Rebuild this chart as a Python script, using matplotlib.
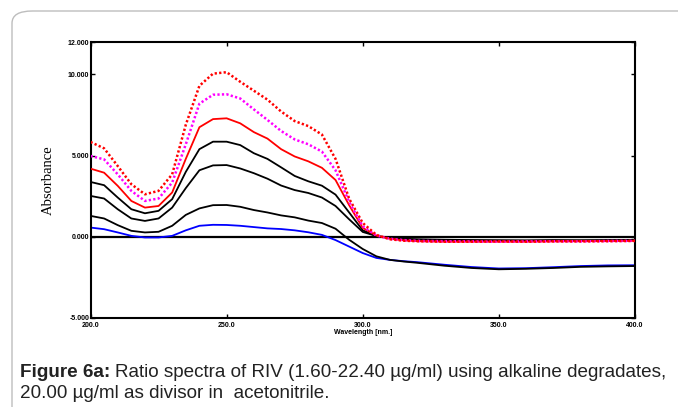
import matplotlib
matplotlib.use("Agg")
import matplotlib.pyplot as plt
from matplotlib.patches import FancyBboxPatch

# ---------------- data ----------------
wavelength = [200, 205, 210, 215, 220, 225, 230, 235, 240, 245, 250, 255, 260,
              265, 270, 275, 280, 285, 290, 295, 300, 305,
              310, 315, 320, 330, 340, 350, 360, 370, 380, 390, 400]

red_dotted = [5.84, 5.45, 4.36, 3.24, 2.62, 2.83, 3.85, 6.90, 9.30, 10.05, 10.14, 9.55, 9.00,
              8.45, 7.72, 7.13, 6.82, 6.30, 4.80, 2.35, 0.85, 0.12,
              -0.15, -0.24, -0.27, -0.30, -0.30, -0.28, -0.30, -0.28, -0.28, -0.27, -0.25]
magenta_dotted = [4.98, 4.77, 3.85, 2.83, 2.21, 2.36, 3.34, 5.70, 8.20, 8.75, 8.78, 8.52, 7.85,
                  7.20, 6.52, 6.00, 5.70, 5.25, 4.10, 2.15, 0.65, 0.08,
                  -0.12, -0.20, -0.25, -0.27, -0.28, -0.30, -0.28, -0.27, -0.28, -0.26, -0.25]
red_solid = [4.20, 3.95, 3.14, 2.21, 1.80, 1.90, 2.73, 4.80, 6.75, 7.25, 7.30, 6.99, 6.45,
             6.05, 5.40, 4.95, 4.65, 4.25, 3.50, 1.95, 0.55, 0.08,
             -0.12, -0.22, -0.27, -0.30, -0.30, -0.30, -0.30, -0.28, -0.27, -0.26, -0.25]
black_1 = [3.38, 3.18, 2.42, 1.70, 1.45, 1.60, 2.32, 4.00, 5.40, 5.86, 5.86, 5.65, 5.15,
           4.80, 4.28, 3.75, 3.42, 3.15, 2.60, 1.50, 0.40, 0.05,
           -0.08, -0.14, -0.18, -0.20, -0.22, -0.22, -0.24, -0.23, -0.22, -0.22, -0.20]
black_2 = [2.52, 2.36, 1.70, 1.13, 0.98, 1.13, 1.80, 3.00, 4.10, 4.40, 4.42, 4.21, 3.92,
           3.58, 3.16, 2.88, 2.70, 2.42, 1.90, 1.08, 0.30, 0.05,
           -0.06, -0.12, -0.15, -0.18, -0.20, -0.22, -0.22, -0.20, -0.22, -0.20, -0.20]
black_3 = [1.29, 1.13, 0.72, 0.37, 0.27, 0.31, 0.68, 1.35, 1.75, 1.95, 1.96, 1.85, 1.65,
           1.50, 1.32, 1.20, 1.00, 0.85, 0.50, -0.18, -0.75, -1.20,
           -1.42, -1.52, -1.60, -1.78, -1.92, -2.00, -1.97, -1.92, -1.85, -1.82, -1.80]
blue = [0.57, 0.47, 0.27, 0.06, -0.04, -0.04, 0.06, 0.40, 0.68, 0.74, 0.73, 0.68, 0.60,
        0.52, 0.48, 0.40, 0.28, 0.12, -0.20, -0.60, -1.00, -1.30,
        -1.42, -1.50, -1.56, -1.72, -1.86, -1.95, -1.93, -1.87, -1.80, -1.76, -1.75]

x_ticks = [200, 250, 300, 350, 400]
y_ticks = [-5, 0, 5, 10, 12]

# ---------------- figure ----------------
W, H = 678, 407
fig = plt.figure(figsize=(W / 100, H / 100), dpi=100)

# rounded page border
border = FancyBboxPatch((12 / W, -0.05), 1.2, 1 - 11 / H + 0.05,
                        boxstyle="round,pad=0,rounding_size=0.03",
                        transform=fig.transFigure, facecolor="none",
                        edgecolor="#bdbdbd", linewidth=1.0)
fig.patches.append(border)

ax = fig.add_axes([90.5 / W, 1 - 318 / H, (635 - 90.5) / W, (318 - 42) / H])

ax.axhline(0, color="black", linewidth=1.6, zorder=1)

lw = 1.3
ax.plot(wavelength, blue, color="#0000ff", linewidth=lw, zorder=2)
ax.plot(wavelength, black_3, color="black", linewidth=lw, zorder=3)
ax.plot(wavelength, black_2, color="black", linewidth=lw, zorder=3)
ax.plot(wavelength, black_1, color="black", linewidth=lw, zorder=3)
ax.plot(wavelength, red_solid, color="#ff0000", linewidth=lw, zorder=4)
ax.plot(wavelength, magenta_dotted, color="#ff00ff", linewidth=1.8,
        linestyle=(0, (0.9, 0.9)), zorder=5)
ax.plot(wavelength, red_dotted, color="#ff0000", linewidth=1.8,
        linestyle=(0, (0.9, 0.9)), zorder=6)

ax.set_xlim(200, 400)
ax.set_ylim(-5, 12)
ax.set_xticks(x_ticks)
ax.set_yticks(y_ticks)
tick_font = dict(fontsize=5, fontweight="bold", family=["Liberation Sans", "DejaVu Sans"])
ax.set_xticklabels([f"{v:.1f}" for v in x_ticks], **tick_font)
ax.set_yticklabels([f"{v:.3f}" for v in y_ticks], **tick_font)
ax.tick_params(axis="x", direction="in", length=3, width=1, pad=3, top=True)
ax.tick_params(axis="y", direction="in", length=3, width=1, pad=1, right=True)
for s in ax.spines.values():
    s.set_linewidth(1.5)

ax.set_xlabel("Wavelength [nm.]", labelpad=0, **tick_font)
ax.set_ylabel("Absorbance", fontsize=10.5, family=["Liberation Serif", "DejaVu Serif"],
              labelpad=9)

# caption
cap_color = "#222222"
cap_fam = ["Liberation Sans", "DejaVu Sans"]
cap_size = 13.6
fig.canvas.draw()
renderer = fig.canvas.get_renderer()
t1 = fig.text(20 / W, 1 - 377 / H, "Figure 6a:", fontsize=cap_size, fontweight="bold",
              family=cap_fam, color=cap_color, va="baseline")
bb = t1.get_window_extent(renderer=renderer)
fig.text((bb.x1 + 5) / W, 1 - 377 / H,
         "Ratio spectra of RIV (1.60-22.40 \u00b5g/ml) using alkaline degradates,",
         fontsize=cap_size, family=cap_fam, color=cap_color, va="baseline")
fig.text(20 / W, 1 - 398 / H, "20.00 \u00b5g/ml as divisor in  acetonitrile.",
         fontsize=cap_size, family=cap_fam, color=cap_color, va="baseline")

fig.savefig("out.png", dpi=100)
